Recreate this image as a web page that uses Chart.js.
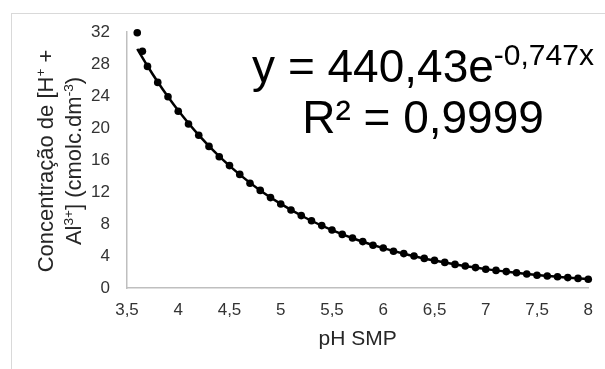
<!DOCTYPE html>
<html>
<head>
<meta charset="utf-8">
<script src="https://cdn.jsdelivr.net/npm/chart.js@4.4.0/dist/chart.umd.min.js"></script>
<style>
  html, body { margin: 0; padding: 0; background: #fff; overflow: hidden; }
  #frame {
    position: absolute; left: 11px; top: 13px; width: 700px; height: 500px;
    border-left: 1px solid #d9d9d9; border-top: 1px solid #d9d9d9;
  }
  #wrap { position: absolute; left: 0; top: 0; width: 605px; height: 369px; }
</style>
</head>
<body>
<div id="frame"></div>
<div id="wrap"><canvas id="chart" width="605" height="369"></canvas></div>
<script>
// pontos medidos (pH SMP x concentração)
const phValues = [3.6, 3.65, 3.7, 3.8, 3.9, 4.0, 4.1, 4.2, 4.3, 4.4, 4.5, 4.6, 4.7, 4.8, 4.9, 5.0,
  5.1, 5.2, 5.3, 5.4, 5.5, 5.6, 5.7, 5.8, 5.9, 6.0, 6.1, 6.2, 6.3, 6.4, 6.5, 6.6, 6.7, 6.8, 6.9,
  7.0, 7.1, 7.2, 7.3, 7.4, 7.5, 7.6, 7.7, 7.8, 7.9, 8.0];
const concValues = [31.9, 29.6, 27.7, 25.7, 23.9, 22.1, 20.5, 19.1, 17.7, 16.4, 15.3, 14.2, 13.1, 12.2, 11.3, 10.5,
  9.75, 9.05, 8.4, 7.8, 7.25, 6.7, 6.25, 5.8, 5.35, 5.0, 4.6, 4.3, 4.0, 3.7, 3.45, 3.2, 2.95, 2.75, 2.55,
  2.35, 2.2, 2.05, 1.9, 1.75, 1.6, 1.5, 1.4, 1.3, 1.2, 1.1];

// linha de tendência (exponencial)
const trendPh = [3.6, 3.7, 3.8, 3.9, 4.0, 4.2, 4.4, 4.6, 4.8, 5.0, 5.25, 5.5, 5.75, 6.0, 6.25, 6.5, 6.75, 7.0, 7.25, 7.5, 7.75, 8.0];
const trendConc = [29.9, 27.75, 25.75, 23.9, 22.18, 19.1, 16.45, 14.17, 12.2, 10.51, 8.72, 7.23, 6.0, 4.98, 4.13, 3.43, 2.84, 2.36, 1.96, 1.62, 1.35, 1.12];

const xTickValues = [3.5, 4, 4.5, 5, 5.5, 6, 6.5, 7, 7.5, 8];
const yTickValues = [0, 4, 8, 12, 16, 20, 24, 28, 32];

const xTitle = 'pH SMP';
// cada linha: [texto, sobrescrito?]
const yTitleLines = [
  [['Concentração de [H', false], ['+', true], [' +', false]],
  [['Al', false], ['3+', true], ['] (cmolc.dm', false], ['-3', true], [')', false]]
];
const eqMain = 'y = 440,43e';
const eqExp = '-0,747x';
const r2Text = 'R² = 0,9999';

const FONT = '"Liberation Sans", Arial, sans-serif';

function fmt(v) {
  return String(v).replace('.', ',');
}

// desenha uma linha com partes sobrescritas, centrada em x
function drawRich(ctx, parts, cx, y, size) {
  const supSize = size * 0.62;
  let total = 0;
  parts.forEach(p => {
    ctx.font = (p[1] ? supSize : size) + 'px ' + FONT;
    total += ctx.measureText(p[0]).width;
  });
  let x = cx - total / 2;
  ctx.textAlign = 'left';
  parts.forEach(p => {
    ctx.font = (p[1] ? supSize : size) + 'px ' + FONT;
    ctx.fillText(p[0], x, p[1] ? y - size * 0.38 : y);
    x += ctx.measureText(p[0]).width;
  });
}

const textPlugin = {
  id: 'textPlugin',
  afterDraw(chart) {
    const ctx = chart.ctx;
    const area = chart.chartArea;
    ctx.save();
    ctx.fillStyle = '#262626';
    ctx.textBaseline = 'alphabetic';

    // título do eixo x
    ctx.font = '21px ' + FONT;
    ctx.textAlign = 'center';
    ctx.fillText(xTitle, (area.left + area.right) / 2, 345);

    // título do eixo y (girado)
    const midY = (area.top + area.bottom) / 2 + 1;
    ctx.save();
    ctx.translate(53, midY);
    ctx.rotate(-Math.PI / 2);
    drawRich(ctx, yTitleLines[0], 0, 0, 22);
    ctx.restore();
    ctx.save();
    ctx.translate(81, midY);
    ctx.rotate(-Math.PI / 2);
    drawRich(ctx, yTitleLines[1], 0, 0, 22);
    ctx.restore();

    // equação e R²
    ctx.fillStyle = '#000';
    ctx.font = '46px ' + FONT;
    const w1 = ctx.measureText(eqMain).width;
    ctx.font = '30px ' + FONT;
    const w2 = ctx.measureText(eqExp).width;
    let x = 423 - (w1 + w2) / 2;
    ctx.textAlign = 'left';
    ctx.font = '46px ' + FONT;
    ctx.fillText(eqMain, x, 82);
    ctx.font = '30px ' + FONT;
    ctx.fillText(eqExp, x + w1, 65);
    ctx.font = '46px ' + FONT;
    ctx.textAlign = 'center';
    ctx.fillText(r2Text, 423, 133);
    ctx.restore();
  }
};

const ctx = document.getElementById('chart').getContext('2d');
const chart = new Chart(ctx, {
  type: 'scatter',
  data: {
    datasets: [
      {
        label: 'Tendência',
        type: 'line',
        data: trendPh.map((x, i) => ({ x: x, y: trendConc[i] })),
        borderColor: '#000',
        borderWidth: 2.5,
        pointRadius: 0,
        fill: false,
        clip: false,
        cubicInterpolationMode: 'monotone'
      },
      {
        label: 'Dados',
        data: phValues.map((x, i) => ({ x: x, y: concValues[i] })),
        backgroundColor: '#000',
        borderWidth: 0,
        clip: false,
        pointRadius: 3.8
      }
    ]
  },
  options: {
    responsive: false,
    devicePixelRatio: 1,
    animation: false,
    layout: { padding: { top: 32, right: 15, left: 0, bottom: 0 } },
    plugins: { legend: { display: false }, tooltip: { enabled: false } },
    scales: {
      x: {
        type: 'linear',
        min: 3.5,
        max: 8,
        afterBuildTicks: s => { s.ticks = xTickValues.map(v => ({ value: v })); },
        afterFit: s => { s.height = 81; },
        ticks: {
          callback: v => fmt(v),
          font: { family: FONT, size: 17 },
          color: '#333',
          padding: 12,
          maxRotation: 0
        },
        grid: { drawOnChartArea: false, drawTicks: false },
        border: { display: true, color: '#bfbfbf', width: 1.5 }
      },
      y: {
        min: 0,
        max: 32,
        afterBuildTicks: s => { s.ticks = yTickValues.map(v => ({ value: v })); },
        afterFit: s => { s.width = 127; },
        ticks: {
          callback: v => fmt(v),
          font: { family: FONT, size: 17 },
          color: '#333',
          padding: 17
        },
        grid: { drawOnChartArea: false, drawTicks: false },
        border: { display: true, color: '#bfbfbf', width: 1.5 }
      }
    }
  },
  plugins: [textPlugin]
});
</script>
</body>
</html>
